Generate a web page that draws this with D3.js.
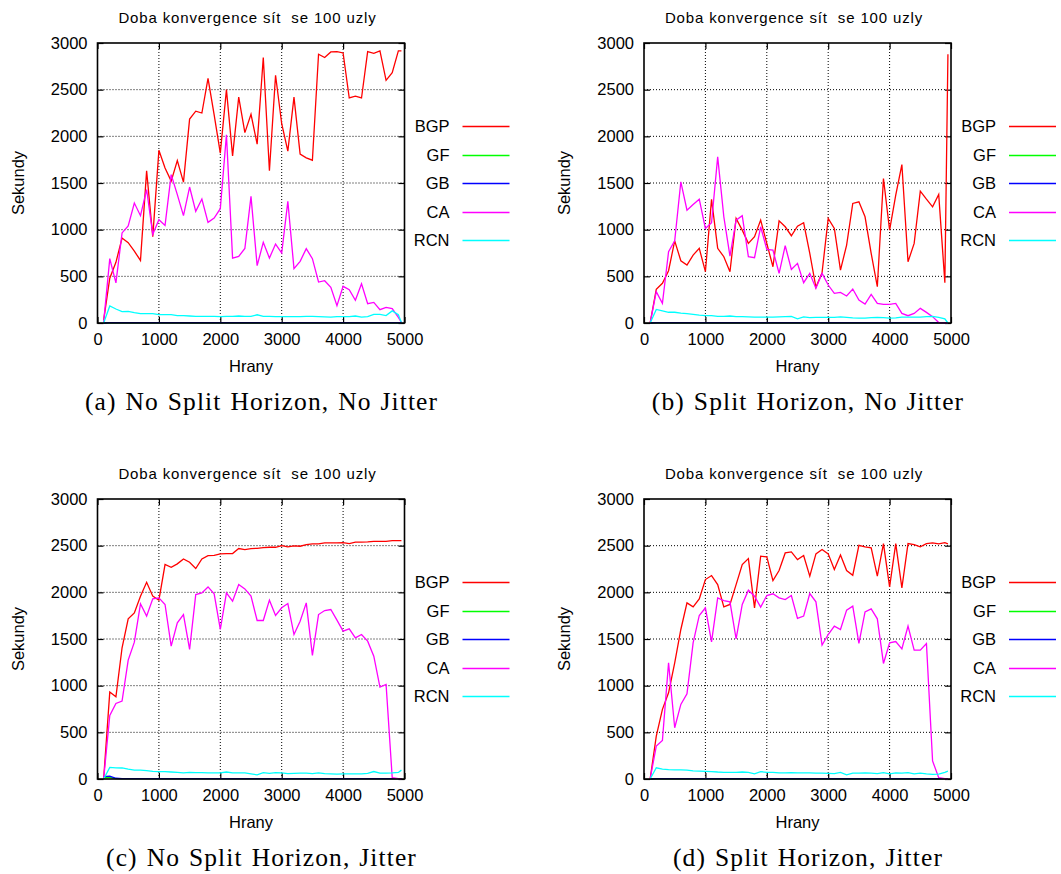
<!DOCTYPE html>
<html>
<head>
<meta charset="utf-8">
<script src="https://cdn.jsdelivr.net/npm/d3@7"></script>
<style>
  body { margin: 0; background: #fff; }
  svg { display: block; }
  .tick-lbl, .lbl, .leg { font-family: "Liberation Sans", Arial, sans-serif; fill: #000; }
  .cap { font-family: "Liberation Serif", "Times New Roman", serif; fill: #000; }
</style>
</head>
<body>
<div id="chart"></div>
<script>
// Edges (x values)
const hrany = [100, 200, 300, 400, 500, 600, 700, 800, 900, 1000,
  1100, 1200, 1300, 1400, 1500, 1600, 1700, 1800, 1900, 2000,
  2100, 2200, 2300, 2400, 2500, 2600, 2700, 2800, 2900, 3000,
  3100, 3200, 3300, 3400, 3500, 3600, 3700, 3800, 3900, 4000,
  4100, 4200, 4300, 4400, 4500, 4600, 4700, 4800, 4900, 4950];

const serie = ['BGP', 'GF', 'GB', 'CA', 'RCN'];
const xTicks = [0, 1000, 2000, 3000, 4000, 5000];
const yTicks = [0, 500, 1000, 1500, 2000, 2500, 3000];
const nadpis = 'Doba konvergence sít  se 100 uzly';
const popisky = ['(a) No Split Horizon, No Jitter', '(b) Split Horizon, No Jitter',
  '(c) No Split Horizon, Jitter', '(d) Split Horizon, Jitter'];

// (a) No Split Horizon, No Jitter
const bgpA = [30, 480, 650, 910, 860, 770, 670, 1630, 925, 1850,
  1660, 1520, 1740, 1510, 2185, 2270, 2250, 2620, 2230, 1820,
  2500, 1790, 2420, 2040, 2236, 1917, 2845, 1631, 2654, 2135,
  1841, 2420, 1810, 1770, 1744, 2880, 2845, 2904, 2907, 2893,
  2411, 2430, 2411, 2907, 2890, 2915, 2600, 2683, 2915, 2915];
const gfA = [0, 2, 2, 2, 2, 2, 2, 2, 2, 2, 2, 2, 2, 2, 2, 2, 2, 2, 2, 2, 2, 2, 2, 2, 2,
  2, 2, 2, 2, 2, 2, 2, 2, 2, 2, 2, 2, 2, 2, 2, 2, 2, 2, 2, 2, 2, 2, 2, 2, 0];
const gbA = [0, 3, 3, 3, 3, 3, 3, 3, 3, 3, 3, 3, 3, 3, 3, 3, 3, 3, 3, 3, 3, 3, 3, 3, 3,
  3, 3, 3, 3, 3, 3, 3, 3, 3, 3, 3, 3, 3, 3, 3, 3, 3, 3, 3, 3, 3, 3, 3, 3, 0];
const caA = [10, 690, 430, 965, 1040, 1285, 1150, 1430, 950, 1107,
  1046, 1590, 1375, 1150, 1457, 1196, 1328, 1078, 1125, 1225,
  2017, 696, 714, 798, 1357, 614, 864, 696, 846, 750,
  1303, 582, 661, 796, 689, 439, 453, 382, 186, 393,
  357, 243, 421, 207, 221, 143, 168, 154, 61, 5];
const rcnA = [0, 182, 150, 122, 125, 110, 100, 100, 100, 90,
  90, 90, 80, 80, 75, 70, 70, 72, 72, 68,
  72, 72, 75, 72, 70, 88, 72, 70, 68, 68,
  68, 68, 68, 70, 70, 68, 65, 62, 68, 68,
  68, 75, 62, 68, 92, 92, 80, 130, 89, 5];

// (b) Split Horizon, No Jitter
const bgpB = [0, 360, 425, 560, 880, 667, 620, 728, 800, 550,
  1324, 800, 710, 550, 1120, 995, 853, 924, 1102, 853,
  603, 1095, 1031, 935, 1038, 1074, 746, 382, 539, 1120,
  1013, 567, 835, 1281, 1299, 1138, 746, 389, 1548, 995,
  1370, 1698, 656, 853, 1413, 1327, 1245, 1377, 432, 2880];
const gfB = [0, 2, 2, 2, 2, 2, 2, 2, 2, 2, 2, 2, 2, 2, 2, 2, 2, 2, 2, 2, 2, 2, 2, 2, 2,
  2, 2, 2, 2, 2, 2, 2, 2, 2, 2, 2, 2, 2, 2, 2, 2, 2, 2, 2, 2, 2, 2, 2, 2, 0];
const gbB = [0, 3, 3, 3, 3, 3, 3, 3, 3, 3, 3, 3, 3, 3, 3, 3, 3, 3, 3, 3, 3, 3, 3, 3, 3,
  3, 3, 3, 3, 3, 3, 3, 3, 3, 3, 3, 3, 3, 3, 3, 3, 3, 3, 3, 3, 3, 3, 3, 3, 0];
const caB = [0, 335, 210, 763, 880, 1513, 1209, 1270, 1327, 1013,
  1074, 1780, 1138, 717, 1102, 1149, 710, 700, 1031, 788,
  781, 532, 828, 574, 639, 432, 532, 371, 532, 407,
  318, 328, 289, 364, 246, 203, 307, 210, 200, 200,
  210, 103, 78, 103, 157, 114, 68, 5, 0, 0];
const rcnB = [0, 145, 130, 115, 115, 105, 100, 92, 85, 80,
  78, 72, 72, 75, 68, 68, 65, 62, 62, 62,
  62, 65, 68, 70, 45, 65, 58, 60, 60, 60,
  60, 65, 60, 55, 52, 52, 58, 60, 58, 52,
  55, 62, 62, 62, 62, 68, 72, 60, 45, 0];

// (c) No Split Horizon, Jitter
const bgpC = [0, 931, 881, 1406, 1716, 1780, 1959, 2108, 1959, 1916,
  2298, 2269, 2305, 2358, 2323, 2255, 2358, 2394, 2397, 2412,
  2415, 2415, 2469, 2458, 2469, 2472, 2479, 2483, 2483, 2501,
  2487, 2497, 2494, 2512, 2519, 2519, 2529, 2529, 2529, 2533,
  2522, 2537, 2537, 2540, 2547, 2547, 2547, 2554, 2554, 2554];
const gfC = [15, 18, 5, 3, 3, 3, 3, 3, 3, 3, 3, 3, 3, 3, 3, 3, 3, 3, 3, 3, 3, 3, 3, 3, 3,
  3, 3, 3, 3, 3, 3, 3, 3, 3, 3, 3, 3, 3, 3, 3, 3, 3, 3, 3, 3, 3, 3, 3, 3, 3];
const gbC = [25, 30, 8, 4, 4, 4, 4, 4, 4, 4, 4, 4, 4, 4, 4, 4, 4, 4, 4, 4, 4, 4, 4, 4, 4,
  4, 4, 4, 4, 4, 4, 4, 4, 4, 4, 4, 4, 4, 4, 4, 4, 4, 4, 4, 4, 4, 4, 4, 4, 4];
const caC = [0, 681, 810, 835, 1274, 1466, 1877, 1745, 1930, 1941,
  1870, 1423, 1673, 1762, 1388, 1976, 1994, 2058, 1984, 1602,
  1994, 1905, 2083, 2037, 1959, 1698, 1698, 1916, 1752, 1834,
  1880, 1548, 1691, 1887, 1324, 1762, 1805, 1816, 1702, 1584,
  1609, 1513, 1548, 1477, 1316, 985, 1013, 14, 3, 0];
const rcnC = [0, 125, 120, 118, 105, 95, 95, 90, 82, 78,
  80, 75, 70, 65, 70, 68, 68, 65, 65, 65,
  75, 65, 65, 65, 55, 45, 68, 60, 68, 65,
  58, 60, 62, 62, 58, 65, 58, 55, 52, 55,
  55, 55, 55, 60, 80, 62, 62, 65, 70, 95];

// (d) Split Horizon, Jitter
const bgpD = [0, 460, 746, 924, 1245, 1602, 1887, 1844, 1930, 2137,
  2180, 2083, 1844, 1870, 2083, 2298, 2362, 1834, 2387, 2380,
  2126, 2233, 2422, 2433, 2351, 2394, 2173, 2412, 2458, 2412,
  2244, 2401, 2233, 2183, 2504, 2487, 2476, 2173, 2522, 2058,
  2522, 2048, 2522, 2512, 2487, 2522, 2529, 2519, 2533, 2519];
const gfD = [0, 2, 2, 2, 2, 2, 2, 2, 2, 2, 2, 2, 2, 2, 2, 2, 2, 2, 2, 2, 2, 2, 2, 2, 2,
  2, 2, 2, 2, 2, 2, 2, 2, 2, 2, 2, 2, 2, 2, 2, 2, 2, 2, 2, 2, 2, 2, 2, 2, 2];
const gbD = [0, 3, 3, 3, 3, 3, 3, 3, 3, 3, 3, 3, 3, 3, 3, 3, 3, 3, 3, 3, 3, 3, 3, 3, 3,
  3, 3, 3, 3, 3, 3, 3, 3, 3, 3, 3, 3, 3, 3, 3, 3, 3, 3, 3, 3, 3, 3, 3, 3, 3];
const caD = [0, 353, 414, 1245, 549, 799, 913, 1459, 1752, 1834,
  1470, 1941, 1912, 1898, 1502, 1870, 2023, 1959, 1841, 1966,
  1984, 1941, 1923, 1966, 1720, 1745, 1987, 1898, 1434, 1548,
  1638, 1602, 1809, 1852, 1452, 1791, 1823, 1716, 1238, 1459,
  1473, 1395, 1638, 1381, 1381, 1452, 193, 14, 5, 0];
const rcnD = [0, 120, 105, 100, 98, 98, 95, 88, 85, 82,
  80, 75, 72, 72, 72, 75, 70, 55, 78, 72,
  72, 65, 65, 68, 65, 65, 65, 62, 62, 60,
  58, 70, 45, 62, 62, 65, 62, 58, 68, 55,
  65, 62, 68, 55, 62, 55, 50, 52, 72, 85];

const panels = [
  [bgpA, gfA, gbA, caA, rcnA],
  [bgpB, gfB, gbB, caB, rcnB],
  [bgpC, gfC, gbC, caC, rcnC],
  [bgpD, gfD, gbD, caD, rcnD]
];

// gnuplot default colours
const colors = ['#ff0000', '#00ff00', '#0000ff', '#ff00ff', '#00ffff'];

const W = 1061, H = 874;
let width = 307, height = 280;
// top-left corner of each plot area
let origins = [[97.5, 43], [644, 43], [97.5, 499], [644, 499]];

let svg = d3.select('#chart').append('svg')
  .attr('width', W)
  .attr('height', H);

let x = d3.scaleLinear().domain([0, 5000]).range([0, width]);
let y = d3.scaleLinear().domain([0, 3000]).range([height, 0]);

panels.forEach(function (series, p) {
  let g = svg.append('g')
    .attr('transform', 'translate(' + origins[p][0] + ',' + origins[p][1] + ')');

  // title (keeps the double space)
  g.append('text')
    .attr('class', 'lbl')
    .attr('x', 150)
    .attr('y', -20)
    .attr('text-anchor', 'middle')
    .style('font-size', '15px')
    .style('letter-spacing', '0.85px')
    .style('white-space', 'pre')
    .text(nadpis);

  // dotted grid
  g.append('g').selectAll('line')
    .data(xTicks.slice(1, -1))
    .join('line')
    .attr('x1', d => x(d)).attr('x2', d => x(d))
    .attr('y1', 0).attr('y2', height)
    .attr('stroke', '#000').attr('stroke-width', 1)
    .attr('stroke-dasharray', '1,2');
  g.append('g').selectAll('line')
    .data(yTicks.slice(1, -1))
    .join('line')
    .attr('y1', d => y(d)).attr('y2', d => y(d))
    .attr('x1', 0).attr('x2', width)
    .attr('stroke', '#000').attr('stroke-width', 1)
    .attr('stroke-dasharray', '1,2');

  // axes: inward ticks on all four sides
  let ax = [
    g.append('g').attr('transform', 'translate(0,' + height + ')')
      .call(d3.axisBottom(x).tickValues(xTicks).tickSize(-6).tickPadding(10).tickFormat(d3.format('d'))),
    g.append('g')
      .call(d3.axisTop(x).tickValues(xTicks).tickSize(-6).tickFormat('')),
    g.append('g')
      .call(d3.axisLeft(y).tickValues(yTicks).tickSize(-6).tickPadding(10).tickFormat(d3.format('d'))),
    g.append('g').attr('transform', 'translate(' + width + ',0)')
      .call(d3.axisRight(y).tickValues(yTicks).tickSize(-6).tickFormat(''))
  ];
  ax.forEach(function (a) {
    a.select('.domain').remove();
    a.selectAll('.tick line').attr('stroke', '#000').attr('stroke-width', 1.2);
    a.selectAll('.tick text')
      .attr('class', 'tick-lbl')
      .style('font-size', '16.5px');
  });

  // series lines
  serie.forEach(function (name, i) {
    let line = d3.line()
      .x(function (d, k) { return x(hrany[k]); })
      .y(function (d) { return y(d); });
    g.append('path')
      .datum(series[i])
      .attr('fill', 'none')
      .attr('stroke', colors[i])
      .attr('stroke-width', 1.3)
      .attr('d', line);
  });

  // border
  g.append('rect')
    .attr('width', width)
    .attr('height', height)
    .attr('fill', 'none')
    .attr('stroke', '#000')
    .attr('stroke-width', 1.6);

  // axis labels
  g.append('text')
    .attr('class', 'lbl')
    .attr('x', width / 2)
    .attr('y', height + 49)
    .attr('text-anchor', 'middle')
    .style('font-size', '16.5px')
    .text('Hrany');
  g.append('text')
    .attr('class', 'lbl')
    .attr('transform', 'translate(-74,' + (height / 2) + ') rotate(-90)')
    .attr('text-anchor', 'middle')
    .style('font-size', '16.5px')
    .text('Sekundy');

  // legend
  let leg = g.append('g').attr('transform', 'translate(' + (width + 45) + ',83)');
  serie.forEach(function (name, i) {
    let row = leg.append('g').attr('transform', 'translate(0,' + Math.round(i * 28.5) + ')');
    row.append('text')
      .attr('class', 'leg')
      .attr('x', 0)
      .attr('dy', '0.36em')
      .attr('text-anchor', 'end')
      .style('font-size', '16.5px')
      .text(name);
    row.append('line')
      .attr('x1', 13).attr('x2', 60)
      .attr('y1', 0.5).attr('y2', 0.5)
      .attr('stroke', colors[i])
      .attr('stroke-width', 1.3);
  });

  // caption
  g.append('text')
    .attr('class', 'cap')
    .attr('x', 164)
    .attr('y', 367)
    .attr('text-anchor', 'middle')
    .style('font-size', '25.5px')
    .style('letter-spacing', '1.1px')
    .style('word-spacing', '1.5px')
    .text(popisky[p]);
});
</script>
</body>
</html>
